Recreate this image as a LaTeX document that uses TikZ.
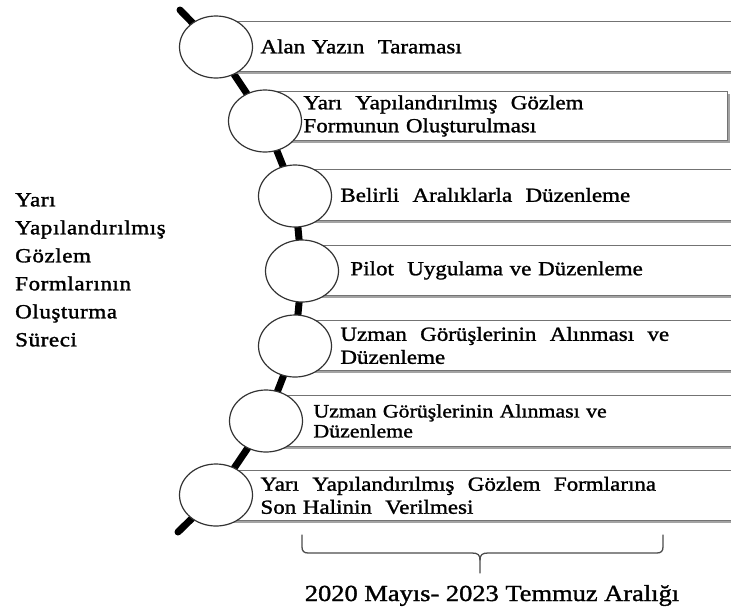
\documentclass[tikz,border=0pt]{standalone}
\usepackage{fontspec}
\setmainfont{Liberation Serif}[FakeStretch=1.15,FakeBold=1.3]
\newfontfamily\sidefont{Liberation Serif}[FakeStretch=1.15,FakeBold=1.6,LetterSpace=3]
\usetikzlibrary{shapes.geometric,shadows,backgrounds}

\begin{document}
\begin{tikzpicture}[x=1pt,y=-1pt,
  stepbox/.style={rectangle, draw=black!55, line width=0.9pt, fill=white,
    anchor=north west, inner ysep=0pt, align=left, text=black,
    font=\fontsize{20}{23}\selectfont,
    drop shadow={shadow xshift=2.5pt, shadow yshift=-2.5pt, fill=black!45, opacity=0.8}},
  dot/.style={ellipse, draw=black!80, line width=1.2pt, fill=white,
    minimum width=73pt, minimum height=62pt, inner sep=0pt},
  spine/.style={line width=7pt, line cap=round, line join=round, draw=black},
  brace/.style={draw=black!70, line width=1.3pt, line cap=round, line join=round}
]
\path[use as bounding box] (0,0) rectangle (731,606);
\clip (0,0) rectangle (731,606);

% process steps
\node[stepbox, minimum width=529pt, minimum height=50pt, inner xsep=44pt, text width=441pt]
  (b1) at (216,21) {Alan Yazın\ \ Taraması};
\node[stepbox, minimum width=462pt, minimum height=49pt, inner xsep=38pt, text width=386pt]
  (b2) at (265,91) {Yarı\ \ Yapılandırılmış\ \ Gözlem\\Formunun Oluşturulması};
\node[stepbox, minimum width=450pt, minimum height=51pt, inner xsep=45pt, text width=360pt]
  (b3) at (295,169) {Belirli\ \ Aralıklarla\ \ Düzenleme};
\node[stepbox, minimum width=443pt, minimum height=50pt, inner xsep=48pt, text width=347pt]
  (b4) at (302,245) {Pilot\ \ Uygulama ve Düzenleme};
\node[stepbox, minimum width=450pt, minimum height=50pt, inner xsep=45pt, text width=360pt]
  (b5) at (295,320) {Uzman\ \ Görüşlerinin\ \ Alınması\ \ ve\\Düzenleme};
\node[stepbox, minimum width=479pt, minimum height=51pt, inner xsep=47pt, text width=385pt,
  font=\fontsize{19}{20}\selectfont]
  (b6) at (266,395) {Uzman Görüşlerinin Alınması ve\\Düzenleme};
\node[stepbox, minimum width=529pt, minimum height=50pt, inner xsep=44pt, text width=441pt]
  (b7) at (216,470) {Yarı\ \ Yapılandırılmış\ \ Gözlem\ \ Formlarına\\Son Halinin\ \ Verilmesi};

% milestone circles
\node[dot] (c1) at (216,47) {};
\node[dot] (c2) at (265,121) {};
\node[dot] (c3) at (295,196) {};
\node[dot] (c4) at (302,271) {};
\node[dot] (c5) at (295,346) {};
\node[dot] (c6) at (266,421) {};
\node[dot] (c7) at (216,495) {};

% timeline spine behind everything
\coordinate (top) at (180,10);
\coordinate (bot) at (178,532);
\begin{scope}[on background layer]
  \draw[spine] (top) -- (c1.center) -- (c2.center) -- (c3.center) -- (c4.center)
    -- (c5.center) -- (c6.center) -- (c7.center) -- (bot);
\end{scope}

% side title
\node[anchor=north west, align=left, inner sep=0pt,
  font={\sidefont\fontsize{20}{28}\selectfont}]
  (title) at (15,193) {Yarı\\Yapılandırılmış\\Gözlem\\Formlarının\\Oluşturma\\Süreci};

% period brace
\draw[brace] (302,535) -- (302,547) .. controls (302,551) and (304,553) .. (308,553)
  -- (472,553) .. controls (478,553) and (480,555) .. (480,560) -- (480,573);
\draw[brace] (480,560) .. controls (480,555) and (482,553) .. (488,553)
  -- (657,553) .. controls (661,553) and (663,551) .. (663,547) -- (663,535);
\node[anchor=base, inner sep=0pt, font=\fontsize{23}{26}\selectfont]
  (period) at (492,601) {2020 Mayıs- 2023 Temmuz Aralığı};
\end{tikzpicture}
\end{document}
